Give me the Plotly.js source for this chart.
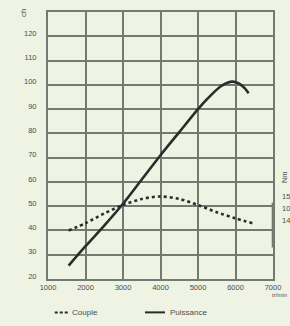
<!DOCTYPE html>
<html><head><meta charset="utf-8">
<script src="https://cdn.plot.ly/plotly-3.0.1.min.js"></script>
<style>html,body{margin:0;padding:0;background:#eef3e4;overflow:hidden}</style>
</head><body>
<div id="chart" style="width:290px;height:326px"></div>
<script>
const rpmPuissance = [1550, 2000, 2500, 3000, 3500, 4000, 4500, 5000, 5300, 5600, 5900, 6100, 6250, 6350];
const puissance    = [25.5, 33.5, 42, 51, 61, 71, 80.5, 90, 95, 99.3, 101.3, 100.5, 98.5, 96.5];
const rpmCouple = [1550, 2000, 2500, 3000, 3500, 4000, 4500, 5000, 5500, 6000, 6450];
const couple    = [40, 43, 47, 50.5, 53, 54, 53, 50.5, 47.5, 45, 43];
const xTicks = [1000, 2000, 3000, 4000, 5000, 6000, 7000];
const yTicks = [20, 30, 40, 50, 60, 70, 80, 90, 100, 110, 120];
const legendNames = ['Couple', 'Puissance'];

const lineCol = '#2b2d2a';
const gridCol = '#737a70';
const textCol = '#4a4d48';

const traces = [
  {x: rpmCouple, y: couple, mode: 'lines', name: legendNames[0],
   line: {color: lineCol, width: 2.6, dash: '3px,3px', shape: 'spline', smoothing: 0.8}},
  {x: rpmPuissance, y: puissance, mode: 'lines', name: legendNames[1],
   line: {color: lineCol, width: 2.6, shape: 'spline', smoothing: 0.8}}
];

const layout = {
  width: 290, height: 326,
  margin: {l: 48, r: 17, t: 12, b: 47},
  paper_bgcolor: '#eef3e4', plot_bgcolor: '#eef3e4',
  showlegend: false,
  font: {family: 'Liberation Sans, Arial, sans-serif', size: 7.5, color: textCol},
  xaxis: {range: [1000, 7000], tickvals: xTicks, ticktext: xTicks.map(String),
          showgrid: true, gridcolor: gridCol, gridwidth: 2,
          showline: true, linecolor: gridCol, linewidth: 2, mirror: true,
          ticks: '', zeroline: false, fixedrange: true},
  yaxis: {range: [20, 130], tickvals: yTicks.concat([130]), ticktext: yTicks.map(String).concat(['']),
          showgrid: true, gridcolor: gridCol, gridwidth: 2,
          showline: true, linecolor: gridCol, linewidth: 2, mirror: true,
          ticks: '', zeroline: false, ticklabelstandoff: 8, ticklabelshift: -3, fixedrange: true},
  shapes: [
    {type: 'line', xref: 'paper', yref: 'y', x0: 1, x1: 1, y0: 33, y1: 51.5,
     line: {color: gridCol, width: 2.6}},
    {type: 'line', xref: 'paper', yref: 'paper', x0: 0.03, x1: 0.089, y0: -0.125, y1: -0.125,
     line: {color: lineCol, width: 2, dash: '3px,2px'}},
    {type: 'line', xref: 'paper', yref: 'paper', x0: 0.431, x1: 0.52, y0: -0.125, y1: -0.125,
     line: {color: lineCol, width: 2}}
  ],
  annotations: [
    {text: 'ch', xref: 'paper', yref: 'y', x: 0, y: 130, xshift: -25, yshift: -1, textangle: -90,
     showarrow: false, xanchor: 'center', yanchor: 'middle', font: {size: 8, color: textCol}},
    {text: 'tr/min', xref: 'paper', yref: 'paper', x: 1, y: 0, xshift: 16, yshift: -16,
     showarrow: false, xanchor: 'right', yanchor: 'middle', font: {size: 6}},
    {text: legendNames[0], xref: 'paper', yref: 'paper', x: 0.098, y: -0.125,
     showarrow: false, xanchor: 'left', yanchor: 'middle', font: {size: 8}},
    {text: legendNames[1], xref: 'paper', yref: 'paper', x: 0.533, y: -0.125,
     showarrow: false, xanchor: 'left', yanchor: 'middle', font: {size: 8}},
    {text: 'Nm', xref: 'paper', yref: 'y', x: 1, y: 62, xshift: 11, textangle: -90,
     showarrow: false, xanchor: 'center', yanchor: 'middle'},
    {text: '15', xref: 'paper', yref: 'y', x: 1, y: 54, xshift: 7,
     showarrow: false, xanchor: 'left', yanchor: 'middle'},
    {text: '10', xref: 'paper', yref: 'y', x: 1, y: 49, xshift: 7,
     showarrow: false, xanchor: 'left', yanchor: 'middle'},
    {text: '14', xref: 'paper', yref: 'y', x: 1, y: 44, xshift: 7,
     showarrow: false, xanchor: 'left', yanchor: 'middle'}
  ]
};

Plotly.newPlot('chart', traces, layout, {displayModeBar: false, staticPlot: true});
</script>
</body></html>
